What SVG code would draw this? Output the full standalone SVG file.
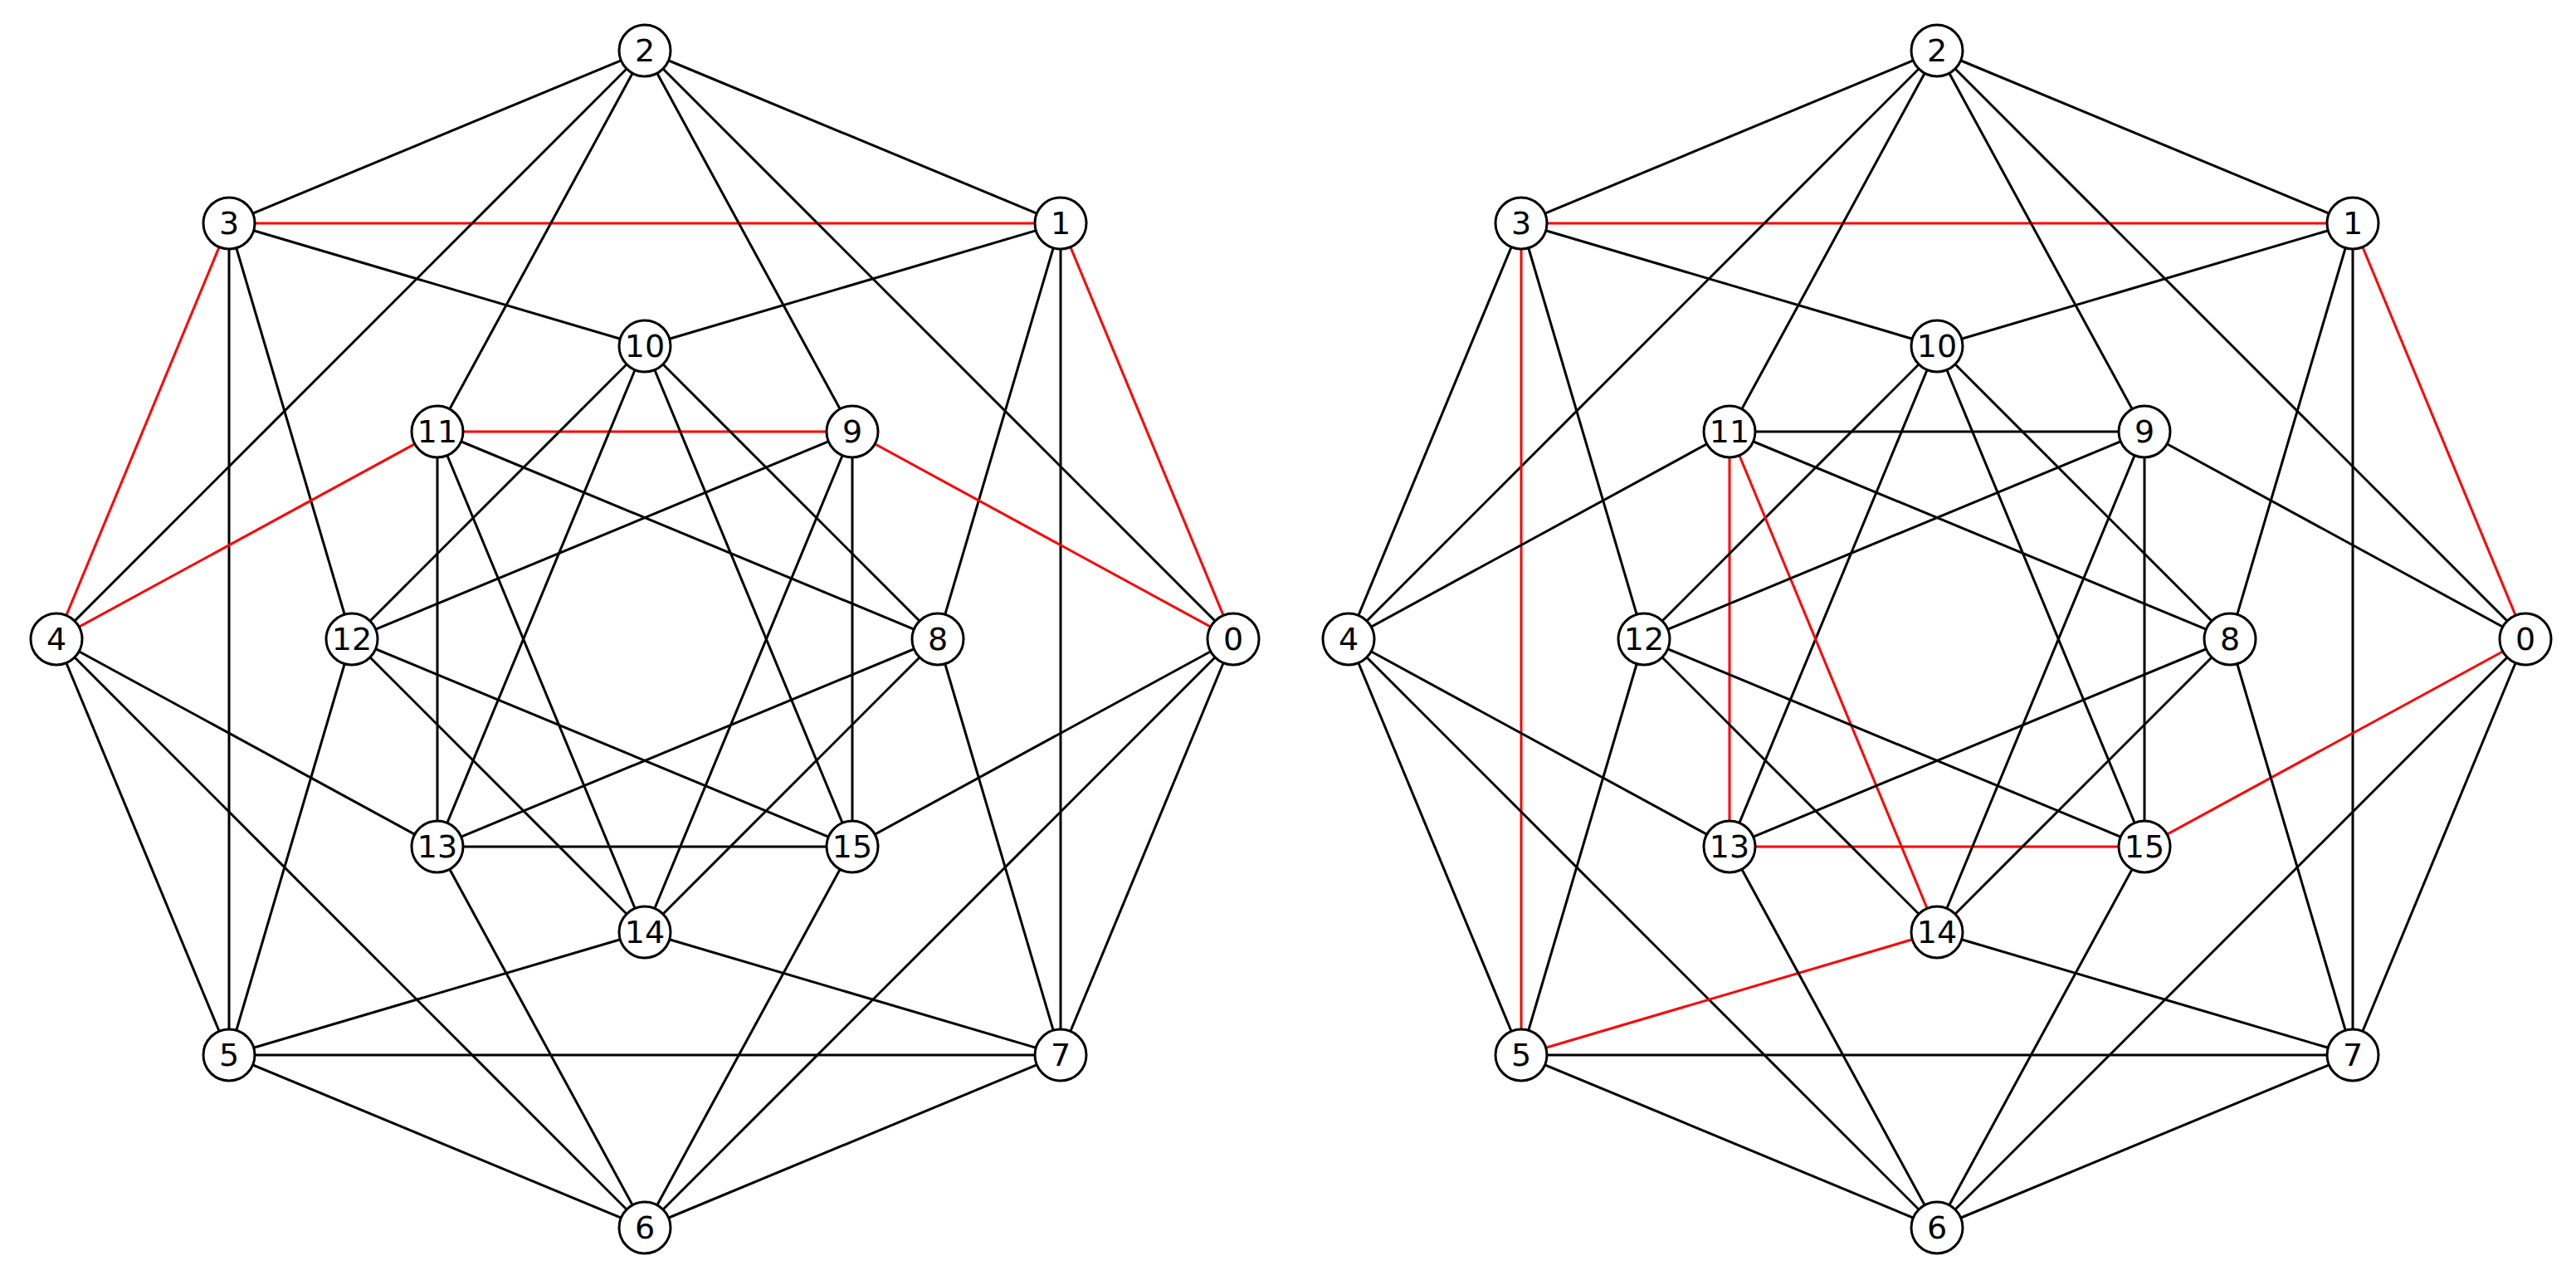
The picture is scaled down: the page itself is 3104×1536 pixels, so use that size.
<svg xmlns="http://www.w3.org/2000/svg" width="3104" height="1536" viewBox="0 0 3104 1536">
<style>
.e line{stroke:#000;stroke-width:3}
.e line.r{stroke:#ff0000}
.n circle{fill:#fff;stroke:#000;stroke-width:3}
.n text{font-family:"DejaVu Sans",sans-serif;font-size:38px;text-anchor:middle;dominant-baseline:central;fill:#000}
</style>
<rect width="3104" height="1536" fill="#fff"/>
<g id="connectors-left" class="e">
<line class="r" x1="1486" y1="770" x2="1278" y2="269"/>
<line x1="1278" y1="269" x2="777" y2="61"/>
<line x1="777" y1="61" x2="276" y2="269"/>
<line class="r" x1="276" y1="269" x2="68" y2="770"/>
<line x1="68" y1="770" x2="276" y2="1271"/>
<line x1="276" y1="1271" x2="777" y2="1479"/>
<line x1="777" y1="1479" x2="1278" y2="1271"/>
<line x1="1278" y1="1271" x2="1486" y2="770"/>
<line class="r" x1="276" y1="269" x2="1278" y2="269"/>
<line x1="777" y1="61" x2="68" y2="770"/>
<line x1="777" y1="61" x2="1486" y2="770"/>
<line x1="1278" y1="269" x2="1278" y2="1271"/>
<line x1="276" y1="269" x2="276" y2="1271"/>
<line x1="68" y1="770" x2="777" y2="1479"/>
<line x1="276" y1="1271" x2="1278" y2="1271"/>
<line x1="777" y1="1479" x2="1486" y2="770"/>
<line x1="777" y1="61" x2="527" y2="520"/>
<line x1="777" y1="61" x2="1027" y2="520"/>
<line x1="1278" y1="269" x2="777" y2="417"/>
<line x1="1278" y1="269" x2="1130" y2="770"/>
<line x1="276" y1="269" x2="777" y2="417"/>
<line x1="276" y1="269" x2="424" y2="770"/>
<line class="r" x1="1486" y1="770" x2="1027" y2="520"/>
<line x1="1486" y1="770" x2="1027" y2="1020"/>
<line class="r" x1="68" y1="770" x2="527" y2="520"/>
<line x1="68" y1="770" x2="527" y2="1020"/>
<line x1="276" y1="1271" x2="424" y2="770"/>
<line x1="276" y1="1271" x2="777" y2="1123"/>
<line x1="777" y1="1479" x2="527" y2="1020"/>
<line x1="777" y1="1479" x2="1027" y2="1020"/>
<line x1="1278" y1="1271" x2="1130" y2="770"/>
<line x1="1278" y1="1271" x2="777" y2="1123"/>
<line class="r" x1="527" y1="520" x2="1027" y2="520"/>
<line x1="527" y1="520" x2="527" y2="1020"/>
<line x1="1027" y1="520" x2="1027" y2="1020"/>
<line x1="527" y1="1020" x2="1027" y2="1020"/>
<line x1="777" y1="417" x2="424" y2="770"/>
<line x1="777" y1="417" x2="527" y2="1020"/>
<line x1="777" y1="417" x2="1027" y2="1020"/>
<line x1="777" y1="417" x2="1130" y2="770"/>
<line x1="527" y1="520" x2="1130" y2="770"/>
<line x1="527" y1="520" x2="777" y2="1123"/>
<line x1="1027" y1="520" x2="424" y2="770"/>
<line x1="1027" y1="520" x2="777" y2="1123"/>
<line x1="424" y1="770" x2="1027" y2="1020"/>
<line x1="424" y1="770" x2="777" y2="1123"/>
<line x1="1130" y1="770" x2="527" y2="1020"/>
<line x1="1130" y1="770" x2="777" y2="1123"/>
</g>
<g id="connectors-right" class="e" transform="translate(1557,0)">
<line class="r" x1="1486" y1="770" x2="1278" y2="269"/>
<line x1="1278" y1="269" x2="777" y2="61"/>
<line x1="777" y1="61" x2="276" y2="269"/>
<line x1="276" y1="269" x2="68" y2="770"/>
<line x1="68" y1="770" x2="276" y2="1271"/>
<line x1="276" y1="1271" x2="777" y2="1479"/>
<line x1="777" y1="1479" x2="1278" y2="1271"/>
<line x1="1278" y1="1271" x2="1486" y2="770"/>
<line class="r" x1="276" y1="269" x2="1278" y2="269"/>
<line x1="777" y1="61" x2="68" y2="770"/>
<line x1="777" y1="61" x2="1486" y2="770"/>
<line x1="1278" y1="269" x2="1278" y2="1271"/>
<line class="r" x1="276" y1="269" x2="276" y2="1271"/>
<line x1="68" y1="770" x2="777" y2="1479"/>
<line x1="276" y1="1271" x2="1278" y2="1271"/>
<line x1="777" y1="1479" x2="1486" y2="770"/>
<line x1="777" y1="61" x2="527" y2="520"/>
<line x1="777" y1="61" x2="1027" y2="520"/>
<line x1="1278" y1="269" x2="777" y2="417"/>
<line x1="1278" y1="269" x2="1130" y2="770"/>
<line x1="276" y1="269" x2="777" y2="417"/>
<line x1="276" y1="269" x2="424" y2="770"/>
<line x1="1486" y1="770" x2="1027" y2="520"/>
<line class="r" x1="1486" y1="770" x2="1027" y2="1020"/>
<line x1="68" y1="770" x2="527" y2="520"/>
<line x1="68" y1="770" x2="527" y2="1020"/>
<line x1="276" y1="1271" x2="424" y2="770"/>
<line class="r" x1="276" y1="1271" x2="777" y2="1123"/>
<line x1="777" y1="1479" x2="527" y2="1020"/>
<line x1="777" y1="1479" x2="1027" y2="1020"/>
<line x1="1278" y1="1271" x2="1130" y2="770"/>
<line x1="1278" y1="1271" x2="777" y2="1123"/>
<line x1="527" y1="520" x2="1027" y2="520"/>
<line class="r" x1="527" y1="520" x2="527" y2="1020"/>
<line x1="1027" y1="520" x2="1027" y2="1020"/>
<line class="r" x1="527" y1="1020" x2="1027" y2="1020"/>
<line x1="777" y1="417" x2="424" y2="770"/>
<line x1="777" y1="417" x2="527" y2="1020"/>
<line x1="777" y1="417" x2="1027" y2="1020"/>
<line x1="777" y1="417" x2="1130" y2="770"/>
<line x1="527" y1="520" x2="1130" y2="770"/>
<line class="r" x1="527" y1="520" x2="777" y2="1123"/>
<line x1="1027" y1="520" x2="424" y2="770"/>
<line x1="1027" y1="520" x2="777" y2="1123"/>
<line x1="424" y1="770" x2="1027" y2="1020"/>
<line x1="424" y1="770" x2="777" y2="1123"/>
<line x1="1130" y1="770" x2="527" y2="1020"/>
<line x1="1130" y1="770" x2="777" y2="1123"/>
</g>
<g class="n">
<g id="L0"><circle cx="1486" cy="770" r="31"/><text x="1486" y="770">0</text></g>
<g id="L1"><circle cx="1278" cy="269" r="31"/><text x="1278" y="269">1</text></g>
<g id="L2"><circle cx="777" cy="61" r="31"/><text x="777" y="61">2</text></g>
<g id="L3"><circle cx="276" cy="269" r="31"/><text x="276" y="269">3</text></g>
<g id="L4"><circle cx="68" cy="770" r="31"/><text x="68" y="770">4</text></g>
<g id="L5"><circle cx="276" cy="1271" r="31"/><text x="276" y="1271">5</text></g>
<g id="L6"><circle cx="777" cy="1479" r="31"/><text x="777" y="1479">6</text></g>
<g id="L7"><circle cx="1278" cy="1271" r="31"/><text x="1278" y="1271">7</text></g>
<g id="L8"><circle cx="1130" cy="770" r="31"/><text x="1130" y="770">8</text></g>
<g id="L9"><circle cx="1027" cy="520" r="31"/><text x="1027" y="520">9</text></g>
<g id="L10"><circle cx="777" cy="417" r="31"/><text x="777" y="417">10</text></g>
<g id="L11"><circle cx="527" cy="520" r="31"/><text x="527" y="520">11</text></g>
<g id="L12"><circle cx="424" cy="770" r="31"/><text x="424" y="770">12</text></g>
<g id="L13"><circle cx="527" cy="1020" r="31"/><text x="527" y="1020">13</text></g>
<g id="L14"><circle cx="777" cy="1123" r="31"/><text x="777" y="1123">14</text></g>
<g id="L15"><circle cx="1027" cy="1020" r="31"/><text x="1027" y="1020">15</text></g>
</g>
<g class="n" transform="translate(1557,0)">
<g id="R0"><circle cx="1486" cy="770" r="31"/><text x="1486" y="770">0</text></g>
<g id="R1"><circle cx="1278" cy="269" r="31"/><text x="1278" y="269">1</text></g>
<g id="R2"><circle cx="777" cy="61" r="31"/><text x="777" y="61">2</text></g>
<g id="R3"><circle cx="276" cy="269" r="31"/><text x="276" y="269">3</text></g>
<g id="R4"><circle cx="68" cy="770" r="31"/><text x="68" y="770">4</text></g>
<g id="R5"><circle cx="276" cy="1271" r="31"/><text x="276" y="1271">5</text></g>
<g id="R6"><circle cx="777" cy="1479" r="31"/><text x="777" y="1479">6</text></g>
<g id="R7"><circle cx="1278" cy="1271" r="31"/><text x="1278" y="1271">7</text></g>
<g id="R8"><circle cx="1130" cy="770" r="31"/><text x="1130" y="770">8</text></g>
<g id="R9"><circle cx="1027" cy="520" r="31"/><text x="1027" y="520">9</text></g>
<g id="R10"><circle cx="777" cy="417" r="31"/><text x="777" y="417">10</text></g>
<g id="R11"><circle cx="527" cy="520" r="31"/><text x="527" y="520">11</text></g>
<g id="R12"><circle cx="424" cy="770" r="31"/><text x="424" y="770">12</text></g>
<g id="R13"><circle cx="527" cy="1020" r="31"/><text x="527" y="1020">13</text></g>
<g id="R14"><circle cx="777" cy="1123" r="31"/><text x="777" y="1123">14</text></g>
<g id="R15"><circle cx="1027" cy="1020" r="31"/><text x="1027" y="1020">15</text></g>
</g>
</svg>
